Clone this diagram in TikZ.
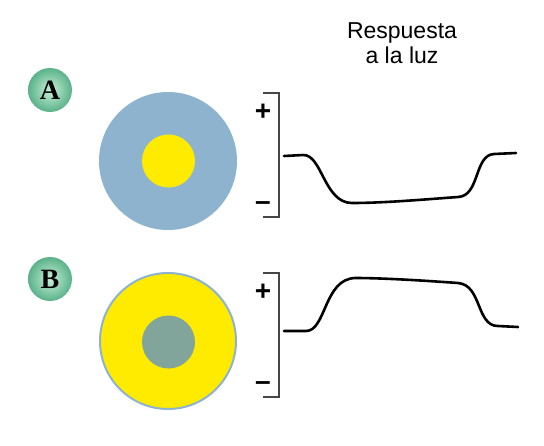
\documentclass[tikz,border=0pt]{standalone}
\usepackage{fontspec}
\setmainfont{Liberation Sans}
\newfontfamily\labelfont{Liberation Serif}
\definecolor{surround}{RGB}{142,179,206}
\definecolor{lightyel}{RGB}{255,235,0}
\definecolor{centergray}{RGB}{130,165,155}
\definecolor{ballin}{RGB}{200,240,215}
\definecolor{ballout}{RGB}{90,178,138}
\definecolor{bracketcol}{RGB}{70,70,70}
\tikzset{
  ball/.style={circle, minimum size=44pt, inner sep=0pt, inner color=ballin, outer color=ballout,
    font=\labelfont\bfseries\fontsize{28}{28}\selectfont},
  field/.style={circle, inner sep=0pt, draw=none},
  trace/.style={line width=2.6pt, line cap=round, line join=round, black},
  bracketline/.style={line width=1.4pt, bracketcol},
  sign/.style={inner sep=0pt, font=\bfseries\fontsize{28}{28}\selectfont}
}
\begin{document}
\begin{tikzpicture}[x=1pt,y=-1pt]
\useasboundingbox (0,0) rectangle (544,445);
% title
\node[align=center, inner sep=0pt, anchor=north, font=\fontsize{23}{25}\selectfont] (title) at (402,22) {Respuesta\\a la luz};
% labels
\node[ball] (la) at (50,90) {A};
\node[ball] (lb) at (50,279) {B};
% receptive fields
\node[field, fill=surround, minimum size=138pt] (surA) at (168,161) {};
\node[field, fill=lightyel, minimum size=53pt] (cenA) at (168.5,161) {};
\node[field, fill=lightyel, draw=surround, line width=2pt, minimum size=136pt] (surB) at (168,341) {};
\node[field, fill=centergray, minimum size=53pt] (cenB) at (168.5,342) {};
% brackets
\draw[bracketline] (263,93) -- (279,93) -- (279,217) -- (263,217);
\draw[bracketline] (263,273) -- (279,273) -- (279,397) -- (263,397);
\node[sign] (pA) at (263,112) {+};
\node[sign] (mA) at (263,206) {–};
\node[sign] (pB) at (263,292) {+};
\node[sign] (mB) at (263,386) {–};
% traces
\draw[trace] (284,156) -- (303,155) .. controls (322,154) and (324,203) .. (352,203)
  .. controls (385,203) and (430,199) .. (458,197)
  .. controls (480,196) and (474,155) .. (494,154) -- (516,153);
\draw[trace] (284,331) -- (306,331) .. controls (326,331) and (324,279) .. (355,278)
  .. controls (385,278) and (430,281) .. (458,283)
  .. controls (482,285) and (476,326) .. (498,326) -- (518,327);
\end{tikzpicture}
\end{document}
